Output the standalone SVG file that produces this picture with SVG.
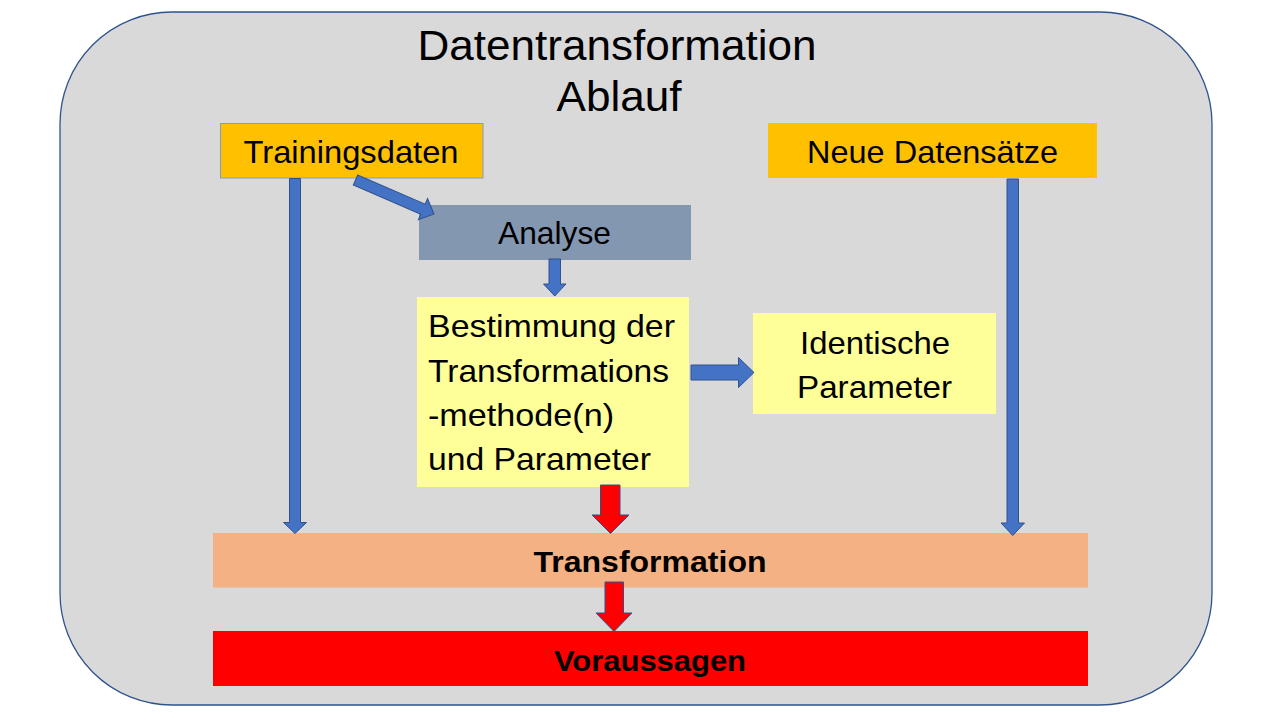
<svg xmlns="http://www.w3.org/2000/svg" width="1280" height="720" viewBox="0 0 1280 720">
<style>
.t{font-family:"Liberation Sans",Arial,sans-serif;fill:#000;}
.b{font-size:32px;}
.bold{font-weight:bold;font-size:30px;}
.ttl{font-size:43px;}
.ba{fill:#4472C4;stroke:#2F528F;stroke-width:1;}
.ra{fill:#FF0000;stroke:#2F528F;stroke-width:1;}
</style>
<rect x="0" y="0" width="1280" height="720" fill="#FFFFFF"/>
<g id="frame">
<rect x="60" y="12" width="1152" height="693" rx="112" ry="112" fill="#D9D9D9" stroke="#2F528F" stroke-width="1.3"/>
<text class="t ttl" x="617" y="60" text-anchor="middle" textLength="399" lengthAdjust="spacingAndGlyphs">Datentransformation</text>
<text class="t ttl" x="619" y="111" text-anchor="middle" textLength="125" lengthAdjust="spacingAndGlyphs">Ablauf</text>
</g>
<g id="trainingsdaten">
<rect x="220.5" y="123.5" width="262.5" height="54.5" fill="#FFC000" stroke="#7F9CC8" stroke-width="1"/>
<text class="t b" x="351" y="163" text-anchor="middle" textLength="215" lengthAdjust="spacingAndGlyphs">Trainingsdaten</text>
</g>
<g id="neue-datensaetze">
<rect x="768" y="123" width="329" height="55" fill="#FFC000"/>
<text class="t b" x="932.5" y="163" text-anchor="middle" textLength="251" lengthAdjust="spacingAndGlyphs">Neue Datensätze</text>
</g>
<g id="analyse">
<rect x="419" y="205" width="272" height="55" fill="#8497B0"/>
<text class="t b" x="554.5" y="244" text-anchor="middle" textLength="113" lengthAdjust="spacingAndGlyphs">Analyse</text>
</g>
<g id="bestimmung">
<rect x="417" y="297" width="272" height="190" fill="#FFFF99"/>
<text class="t b" x="428" y="337" textLength="247" lengthAdjust="spacingAndGlyphs">Bestimmung der</text>
<text class="t b" x="428" y="382" textLength="241" lengthAdjust="spacingAndGlyphs">Transformations</text>
<text class="t b" x="428" y="426" textLength="186" lengthAdjust="spacingAndGlyphs">-methode(n)</text>
<text class="t b" x="428" y="470" textLength="223" lengthAdjust="spacingAndGlyphs">und Parameter</text>
</g>
<g id="identische-parameter">
<rect x="753" y="313" width="243" height="101" fill="#FFFF99"/>
<text class="t b" x="875" y="354" text-anchor="middle" textLength="150" lengthAdjust="spacingAndGlyphs">Identische</text>
<text class="t b" x="874.5" y="398" text-anchor="middle" textLength="155" lengthAdjust="spacingAndGlyphs">Parameter</text>
</g>
<g id="transformation">
<rect x="213" y="533" width="875" height="54.5" fill="#F4B183"/>
<text class="t bold" x="650" y="572" text-anchor="middle" textLength="233" lengthAdjust="spacingAndGlyphs">Transformation</text>
</g>
<g id="voraussagen">
<rect x="213" y="631" width="875" height="55" fill="#FF0000"/>
<text class="t bold" x="650" y="671" text-anchor="middle" textLength="192" lengthAdjust="spacingAndGlyphs">Voraussagen</text>
</g>
<g id="connectors">
<polygon class="ba" points="289.5,178.5 300.5,178.5 300.5,522.5 306.5,522.5 295,533.5 283.5,522.5 289.5,522.5"/>
<polygon class="ba" points="1007,179 1018.5,179 1018.5,523 1024.5,523 1012.75,535.5 1001,523 1007,523"/>
<polygon class="ba" transform="translate(355.5,180) rotate(23.4)" points="0,-5.5 73.5,-5.5 73.5,-11.5 85.5,0 73.5,11.5 73.5,5.5 0,5.5"/>
<polygon class="ba" points="549,259 560.5,259 560.5,284 566,284 554.75,296 543.5,284 549,284"/>
<polygon class="ba" points="691,365 738.5,365 738.5,357.5 754,372.5 738.5,387.5 738.5,380 691,380"/>
<polygon class="ra" points="600.5,485 620,485 620,515 629,515 610.5,533.5 592,515 600.5,515"/>
<polygon class="ra" points="605,582 623.5,582 623.5,613 632,613 614,631.5 596,613 605,613"/>
</g>
</svg>
